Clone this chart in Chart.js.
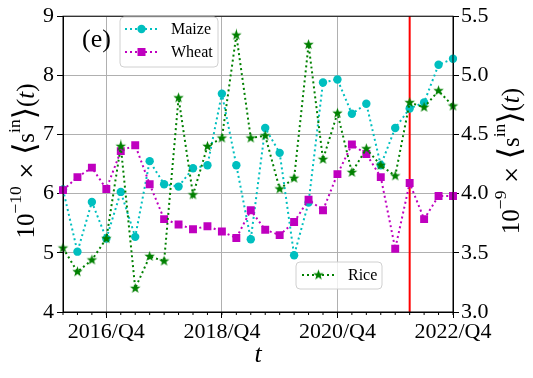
<!DOCTYPE html>
<html>
<head>
<meta charset="utf-8">
<script src="https://cdn.jsdelivr.net/npm/chart.js@4.4.1/dist/chart.umd.min.js"></script>
<style>
  html, body { margin: 0; padding: 0; background: #fff; }
</style>
</head>
<body>
<canvas id="myChart" width="533" height="378"></canvas>
<script>
// quarters 2016/Q1 .. 2022/Q4
const quarters = [
  "2016/Q1", "2016/Q2", "2016/Q3", "2016/Q4",
  "2017/Q1", "2017/Q2", "2017/Q3", "2017/Q4",
  "2018/Q1", "2018/Q2", "2018/Q3", "2018/Q4",
  "2019/Q1", "2019/Q2", "2019/Q3", "2019/Q4",
  "2020/Q1", "2020/Q2", "2020/Q3", "2020/Q4",
  "2021/Q1", "2021/Q2", "2021/Q3", "2021/Q4",
  "2022/Q1", "2022/Q2", "2022/Q3", "2022/Q4"
];
const shownTicks = ["2016/Q4", "2018/Q4", "2020/Q4", "2022/Q4"];

// left axis (x 1e-10)
const maize = [6.07, 5.02, 5.86, 5.24, 6.03, 5.27, 6.55, 6.16, 6.12, 6.43, 6.48, 7.69, 6.48, 5.23,
  7.11, 6.69, 4.96, 5.85, 7.88, 7.93, 7.35, 7.52, 6.48, 7.11, 7.44, 7.54, 8.18, 8.28];
const wheat = [6.06, 6.28, 6.44, 6.08, 6.72, 6.82, 6.16, 5.57, 5.48, 5.40, 5.45, 5.36, 5.25, 5.72,
  5.39, 5.30, 5.52, 5.90, 5.72, 6.33, 6.83, 6.67, 6.28, 5.07, 6.18, 5.57, 5.96, 5.96];
// right axis (x 1e-9)
const rice = [3.54, 3.34, 3.44, 3.62, 4.40, 3.20, 3.47, 3.43, 4.81, 3.99, 4.40, 4.47, 5.34, 4.47,
  4.49, 4.04, 4.13, 5.26, 4.29, 4.68, 4.18, 4.38, 4.24, 4.15, 4.77, 4.73, 4.87, 4.74];

const leftTicks = [4, 5, 6, 7, 8, 9];
const rightTicks = [3.0, 3.5, 4.0, 4.5, 5.0, 5.5];
const cutQuarter = "2022/Q1"; // red line

const SERIF = "'Liberation Serif', 'DejaVu Serif', serif";
const CYAN = "#00bfbf", MAGENTA = "#bf00bf", GREEN = "#008000";

// filled star marker
function makeStar(r) {
  const c = document.createElement("canvas");
  const s = Math.ceil(r * 2 + 2);
  c.width = s; c.height = s;
  const g = c.getContext("2d");
  g.beginPath();
  for (let k = 0; k < 10; k++) {
    const rr = k % 2 === 0 ? r : r * 0.42;
    const a = -Math.PI / 2 + k * Math.PI / 5;
    g.lineTo(s / 2 + rr * Math.cos(a), s / 2 + rr * Math.sin(a));
  }
  g.closePath();
  g.fillStyle = GREEN;
  g.fill();
  return c;
}
const starImg = makeStar(5.5);

// rotated axis label like 10^{-n} x <s^in>(t)
function mathLabel(ctx, x, y, big, mant) {
  const small = big * 0.7;
  const parts = [
    { t: "10", f: big, dy: 0 },
    { t: "\u2212" + mant, f: small, dy: -big * 0.42 },
    { t: " \u00d7 ", f: big, dy: 0, fam: "'DejaVu Serif', serif", sc: 0.85 },
    { t: "\u27e8", f: big * 1.25, dy: 0, fam: "'DejaVu Serif', serif" },
    { t: "s", f: big, dy: 0 },
    { t: "in", f: small, dy: -big * 0.45 },
    { t: "\u27e9", f: big * 1.25, dy: 0, fam: "'DejaVu Serif', serif" },
    { t: "(", f: big, dy: 0 },
    { t: "t", f: big, dy: 0, it: true },
    { t: ")", f: big, dy: 0 }
  ];
  ctx.save();
  ctx.translate(x, y);
  ctx.rotate(-Math.PI / 2);
  ctx.fillStyle = "#000";
  ctx.textBaseline = "middle";
  ctx.textAlign = "left";
  const fontOf = p => (p.it ? "italic " : "") + (p.f * (p.sc || 1)) + "px " + (p.fam || SERIF);
  let w = 0;
  parts.forEach(p => {
    ctx.font = fontOf(p);
    p.w = ctx.measureText(p.t).width;
    w += p.w;
  });
  let cx = -w / 2;
  parts.forEach(p => {
    ctx.font = fontOf(p);
    ctx.fillText(p.t, cx, p.dy + 2);
    cx += p.w;
  });
  ctx.restore();
}

function legendBox(ctx, x, y, w, h) {
  ctx.save();
  ctx.beginPath();
  ctx.roundRect(x, y, w, h, 4);
  ctx.fillStyle = "rgba(255,255,255,0.8)";
  ctx.fill();
  ctx.strokeStyle = "#d0d0d0";
  ctx.lineWidth = 1;
  ctx.stroke();
  ctx.restore();
}

function legendEntry(ctx, x, y, color, marker, text) {
  ctx.save();
  ctx.strokeStyle = color;
  ctx.lineWidth = 2;
  ctx.setLineDash([2, 3]);
  ctx.beginPath();
  ctx.moveTo(x, y);
  ctx.lineTo(x + 33, y);
  ctx.stroke();
  ctx.setLineDash([]);
  const mx = x + 16.5;
  ctx.fillStyle = color;
  if (marker === "circle") {
    ctx.beginPath();
    ctx.arc(mx, y, 4.2, 0, Math.PI * 2);
    ctx.fill();
  } else if (marker === "rect") {
    ctx.fillRect(mx - 4, y - 4, 8, 8);
  } else {
    ctx.drawImage(starImg, mx - starImg.width / 2, y - starImg.height / 2);
  }
  ctx.fillStyle = "#000";
  ctx.font = "16px " + SERIF;
  ctx.textBaseline = "middle";
  ctx.fillText(text, x + 46, y + 1);
  ctx.restore();
}

const extras = {
  id: "extras",
  beforeDatasetsDraw(chart) {
    const { ctx, chartArea, scales } = chart;
    const xr = scales.x.getPixelForValue(quarters.indexOf(cutQuarter));
    ctx.save();
    ctx.strokeStyle = "#ff0000";
    ctx.lineWidth = 2;
    ctx.beginPath();
    ctx.moveTo(xr, chartArea.top);
    ctx.lineTo(xr, chartArea.bottom);
    ctx.stroke();
    ctx.restore();
  },
  afterDatasetsDraw(chart) {
    const { ctx, chartArea, scales } = chart;
    // frame
    ctx.save();
    ctx.strokeStyle = "#000";
    ctx.lineWidth = 1;
    ctx.strokeRect(chartArea.left, chartArea.top, chartArea.right - chartArea.left, chartArea.bottom - chartArea.top);
    // minor ticks
    quarters.forEach((q, i) => {
      const x = scales.x.getPixelForValue(i);
      ctx.beginPath();
      ctx.moveTo(x, chartArea.bottom);
      ctx.lineTo(x, chartArea.bottom + 3);
      ctx.stroke();
    });
    ctx.restore();

    ctx.save();
    ctx.fillStyle = "#000";
    ctx.font = "26px " + SERIF;
    ctx.textBaseline = "middle";
    ctx.fillText("(e)", 82, 40);
    ctx.restore();

    legendBox(ctx, 120, 17, 98, 50);
    legendEntry(ctx, 125, 29, CYAN, "circle", "Maize");
    legendEntry(ctx, 125, 52, MAGENTA, "rect", "Wheat");
    legendBox(ctx, 296, 262, 86, 27);
    legendEntry(ctx, 302, 275, GREEN, "star", "Rice");

    // axis titles
    mathLabel(ctx, 25, 161, 25, "10");
    mathLabel(ctx, 510, 161, 25, "9");
    ctx.save();
    ctx.fillStyle = "#000";
    ctx.font = "italic 26px " + SERIF;
    ctx.textAlign = "center";
    ctx.textBaseline = "middle";
    ctx.fillText("t", (chartArea.left + chartArea.right) / 2, 355);
    ctx.restore();
  }
};

const dotted = { borderWidth: 2, borderDash: [2, 3], tension: 0, fill: false };

new Chart(document.getElementById("myChart").getContext("2d"), {
  type: "line",
  data: {
    labels: quarters,
    datasets: [
      Object.assign({
        label: "Rice", data: rice, yAxisID: "y1", borderColor: GREEN, backgroundColor: GREEN,
        pointStyle: starImg
      }, dotted),
      Object.assign({
        label: "Wheat", data: wheat, yAxisID: "y", borderColor: MAGENTA, backgroundColor: MAGENTA,
        pointStyle: "rect", pointRadius: 5.6, pointBorderWidth: 0
      }, dotted),
      Object.assign({
        label: "Maize", data: maize, yAxisID: "y", borderColor: CYAN, backgroundColor: CYAN,
        pointStyle: "circle", pointRadius: 4.2, pointBorderWidth: 0
      }, dotted)
    ]
  },
  options: {
    responsive: false,
    animation: false,
    layout: { padding: { top: 16, left: 0, right: 0, bottom: 0 } },
    plugins: { legend: { display: false }, tooltip: { enabled: false } },
    scales: {
      x: {
        type: "category",
        offset: false,
        afterFit: s => { s.height = 66; },
        grid: {
          offset: false,
          color: c => shownTicks.includes(quarters[c.index]) ? "#b0b0b0" : "rgba(0,0,0,0)",
          tickColor: c => shownTicks.includes(quarters[c.index]) ? "#000" : "rgba(0,0,0,0)",
          tickLength: 6,
          lineWidth: 1
        },
        border: { color: "#000", width: 1 },
        ticks: {
          autoSkip: false,
          maxRotation: 0,
          padding: 1,
          color: "#000",
          font: { family: SERIF, size: 22 },
          callback: function (v, i) { return shownTicks.includes(quarters[i]) ? quarters[i] : ""; }
        }
      },
      y: {
        position: "left",
        min: leftTicks[0], max: leftTicks[leftTicks.length - 1],
        afterFit: s => { s.width = 63; },
        afterBuildTicks: s => { s.ticks = leftTicks.map(v => ({ value: v })); },
        grid: { color: "#b0b0b0", tickColor: "#000", tickLength: 6, lineWidth: 1 },
        border: { color: "#000", width: 1 },
        ticks: { color: "#000", padding: 3, font: { family: SERIF, size: 22 } }
      },
      y1: {
        position: "right",
        min: rightTicks[0], max: rightTicks[rightTicks.length - 1],
        afterFit: s => { s.width = 80; },
        afterBuildTicks: s => { s.ticks = rightTicks.map(v => ({ value: v })); },
        grid: { drawOnChartArea: false, tickColor: "#000", tickLength: 6 },
        border: { color: "#000", width: 1 },
        ticks: { color: "#000", padding: 2, font: { family: SERIF, size: 22 }, callback: v => v.toFixed(1) }
      }
    }
  },
  plugins: [extras]
});
</script>
</body>
</html>
